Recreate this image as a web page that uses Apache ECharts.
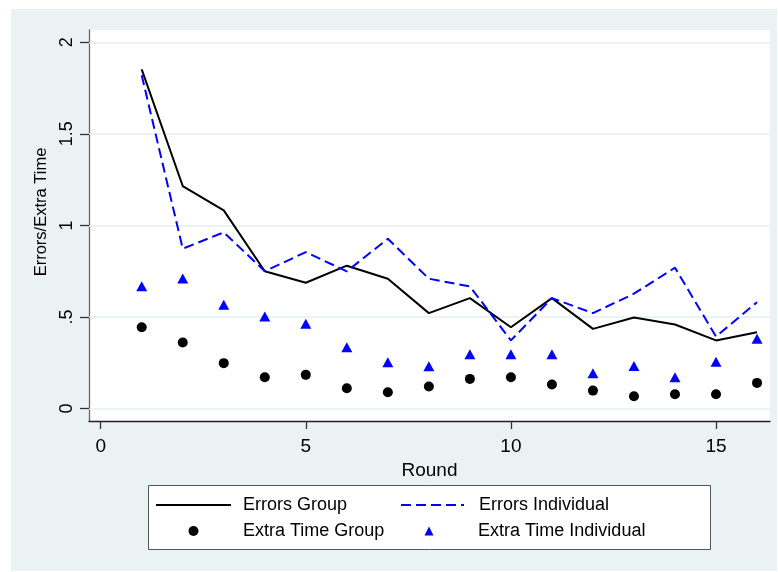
<!DOCTYPE html>
<html><head><meta charset="utf-8">
<script src="https://cdn.jsdelivr.net/npm/echarts@6/dist/echarts.min.js"></script>
<style>html,body{margin:0;padding:0;background:#fff;}#c{position:absolute;left:11px;top:9px;width:766px;height:562px;}</style>
</head><body><div id="c"></div>
<script>
const rounds = [1,2,3,4,5,6,7,8,9,10,11,12,13,14,15,16];
const errorsGroup = [1.852,1.215,1.082,0.750,0.687,0.780,0.709,0.521,0.603,0.444,0.603,0.435,0.497,0.459,0.372,0.417];
const errorsIndividual = [1.820,0.873,0.962,0.750,0.854,0.749,0.927,0.709,0.667,0.372,0.603,0.521,0.627,0.769,0.393,0.581];
const extraTimeGroup = [0.444,0.361,0.248,0.171,0.184,0.111,0.089,0.120,0.162,0.171,0.131,0.098,0.067,0.078,0.078,0.140];
const extraTimeIndividual = [0.668,0.710,0.567,0.503,0.463,0.335,0.253,0.231,0.297,0.297,0.297,0.193,0.233,0.171,0.255,0.381];
const xTicks = [0,5,10,15];
const yTicks = [0,0.5,1,1.5,2];
const yTickLabels = ['0','.5','1','1.5','2'];
const seriesNames = ['Errors Group','Errors Individual','Extra Time Group','Extra Time Individual'];

const pair = arr => rounds.map((r,i)=>[r,arr[i]]);
const FONT = "Arial, 'Liberation Sans', Helvetica, sans-serif";
const BLUE = '#0000ff';
const noSym = {color:'rgba(0,0,0,0)', borderWidth:0};
const legText = pad => ({fontSize:18, color:'#000', fontFamily:FONT, padding:[0,0,0,pad]});

const chart = echarts.init(document.getElementById('c'), null, {renderer:'canvas'});
chart.setOption({
  animation:false,
  backgroundColor:'#eaf2f3',
  textStyle:{fontFamily:FONT},
  grid:{left:78, top:21, right:7, bottom:150, show:true, backgroundColor:'#ffffff', borderWidth:0},
  xAxis:{
    type:'value', min:-0.285, max:16.316,
    name:'Round', nameLocation:'middle', nameGap:27,
    nameTextStyle:{fontSize:19, color:'#000', fontFamily:FONT},
    axisLine:{show:true, onZero:false, lineStyle:{color:'#222', width:1.3}},
    axisTick:{show:true, length:8, customValues:xTicks, lineStyle:{color:'#333', width:1.3}},
    axisLabel:{customValues:xTicks, fontSize:19, color:'#000', margin:16, fontFamily:FONT},
    splitLine:{show:false}
  },
  yAxis:{
    type:'value', min:-0.068, max:2.067,
    name:'Errors/Extra Time', nameLocation:'middle', nameGap:29, nameRotate:90,
    nameTextStyle:{fontSize:16.5, color:'#000', fontFamily:FONT, padding:[0,0,0,27]},
    axisLine:{show:true, onZero:false, lineStyle:{color:'#666', width:1.3}},
    axisTick:{show:true, length:9, customValues:yTicks, lineStyle:{color:'#333', width:1.3}},
    axisLabel:{customValues:yTicks, rotate:90, fontSize:18, color:'#000', margin:13, fontFamily:FONT,
      formatter:v=>{const i=yTicks.indexOf(v); return i>=0?yTickLabels[i]:'';}},
    splitLine:{show:false}
  },
  legend:[
    {orient:'vertical', left:144, top:487, padding:0, itemWidth:75, itemHeight:10, itemGap:8, selectedMode:false,
     textStyle:legText(7),
     data:[{name:seriesNames[0], itemStyle:noSym},{name:seriesNames[2], icon:'circle'}]},
    {orient:'vertical', left:389, top:487, padding:0, itemWidth:63, itemHeight:8, selectedMode:false,
     textStyle:legText(10),
     data:[{name:seriesNames[1], itemStyle:noSym}]},
    {orient:'vertical', left:413.5, top:513, padding:0, itemWidth:9, itemHeight:9, selectedMode:false,
     textStyle:legText(39.5),
     data:[{name:seriesNames[3], icon:'triangle'}]}
  ],
  graphic:[{type:'rect', left:137, top:476, z:-1, shape:{width:562, height:64},
    style:{fill:'#ffffff', stroke:'#555', lineWidth:1}}],
  series:[
    {name:seriesNames[0], type:'line', data:pair(errorsGroup), symbol:'none',
     lineStyle:{color:'#000', width:2}, itemStyle:{color:'#000'}, z:3,
     markLine:{silent:true, symbol:'none', label:{show:false}, animation:false,
       lineStyle:{color:'#e6eff1', width:1.5, type:'solid'},
       data:yTicks.map(v=>({yAxis:v})), z:1}},
    {name:seriesNames[1], type:'line', data:pair(errorsIndividual), symbol:'none',
     lineStyle:{color:BLUE, width:2, type:[10,5]}, itemStyle:{color:BLUE}, z:4},
    {name:seriesNames[2], type:'scatter', data:pair(extraTimeGroup), symbol:'circle', symbolSize:10,
     itemStyle:{color:'#000', opacity:1}, z:5},
    {name:seriesNames[3], type:'scatter', data:pair(extraTimeIndividual), symbol:'triangle', symbolSize:[11,10],
     itemStyle:{color:BLUE, opacity:1}, z:5}
  ]
});
</script></body></html>
